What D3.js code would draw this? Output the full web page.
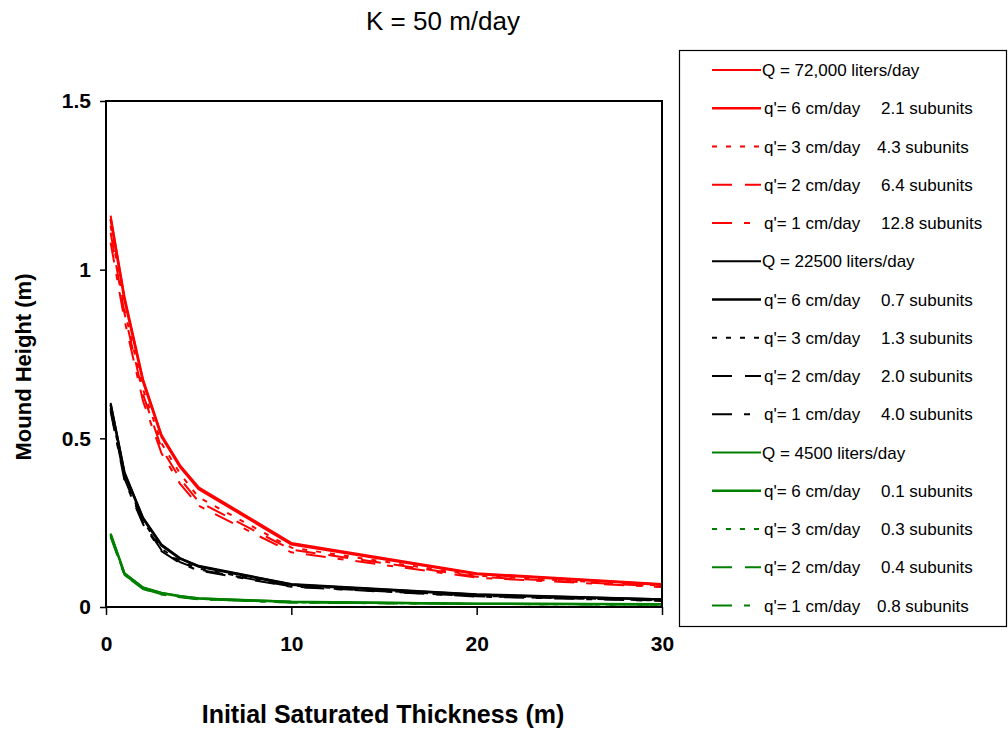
<!DOCTYPE html>
<html>
<head>
<meta charset="utf-8">
<script src="https://cdn.jsdelivr.net/npm/d3@7"></script>
<style>
  body { margin: 0; background: #fff; }
  svg { display: block; font-family: "Liberation Sans", Arial, sans-serif; }
</style>
</head>
<body>
<svg id="chart" width="1008" height="729"></svg>
<script>
// Initial saturated thickness (m)
const thickness = [0.25, 1, 2, 3, 4, 5, 10, 20, 30];

// Mound height (m), Q = 72,000 liters/day
const q72_total = [1.16, 0.92, 0.675, 0.51, 0.42, 0.355, 0.19, 0.100, 0.068];
const q72_q6    = [1.15, 0.91, 0.668, 0.505, 0.415, 0.350, 0.186, 0.098, 0.066];
const q72_q3    = [1.13, 0.88, 0.645, 0.485, 0.395, 0.325, 0.176, 0.093, 0.063];
const q72_q2    = [1.11, 0.87, 0.630, 0.470, 0.380, 0.312, 0.170, 0.090, 0.061];
const q72_q1    = [1.08, 0.85, 0.610, 0.455, 0.365, 0.300, 0.162, 0.087, 0.059];

// Q = 22500 liters/day
const q225_total = [0.605, 0.400, 0.265, 0.185, 0.145, 0.122, 0.068, 0.038, 0.023];
const q225_q6    = [0.600, 0.395, 0.262, 0.182, 0.143, 0.120, 0.066, 0.036, 0.022];
const q225_q3    = [0.590, 0.385, 0.255, 0.172, 0.136, 0.114, 0.063, 0.033, 0.020];
const q225_q2    = [0.585, 0.380, 0.250, 0.168, 0.133, 0.111, 0.061, 0.032, 0.019];
const q225_q1    = [0.580, 0.375, 0.245, 0.165, 0.130, 0.108, 0.060, 0.031, 0.018];

// Q = 4500 liters/day
const q45_total = [0.218, 0.100, 0.058, 0.042, 0.033, 0.026, 0.016, 0.010, 0.008];
const q45_q6    = [0.216, 0.099, 0.057, 0.041, 0.032, 0.025, 0.015, 0.010, 0.008];
const q45_q3    = [0.212, 0.096, 0.055, 0.039, 0.031, 0.024, 0.014, 0.009, 0.007];
const q45_q2    = [0.210, 0.095, 0.054, 0.038, 0.030, 0.023, 0.014, 0.009, 0.007];
const q45_q1    = [0.208, 0.094, 0.053, 0.037, 0.029, 0.023, 0.013, 0.009, 0.007];

// Legend text
const labelQ  = ["Q = 72,000 liters/day", "Q = 22500 liters/day", "Q = 4500 liters/day"];
const labelQp = ["q'= 6 cm/day", "q'= 3 cm/day", "q'= 2 cm/day", "q'= 1 cm/day"];
const subunits = [
  ["2.1 subunits", "4.3 subunits", "6.4 subunits", "12.8 subunits"],
  ["0.7 subunits", "1.3 subunits", "2.0 subunits", "4.0 subunits"],
  ["0.1 subunits", "0.3 subunits", "0.4 subunits", "0.8 subunits"]
];

const xTicks = [0, 10, 20, 30];
const yTicks = [0, 0.5, 1, 1.5];

const colors = ["#ff0000", "#000000", "#008000"];
const dashes = [null, null, "5,9", "20,13", "20,12,6,12"];
const widths = [2, 2.5, 2, 2, 2];

const groups = [
  [q72_total, q72_q6, q72_q3, q72_q2, q72_q1],
  [q225_total, q225_q6, q225_q3, q225_q2, q225_q1],
  [q45_total, q45_q6, q45_q3, q45_q2, q45_q1]
];

const svg = d3.select("#chart");
const m = { left: 106, top: 101, right: 662, bottom: 607 };

const x = d3.scaleLinear().domain([0, 30]).range([m.left, m.right]);
const y = d3.scaleLinear().domain([0, 1.5]).range([m.bottom, m.top]);

// Title
svg.append("text")
  .attr("x", 443).attr("y", 30)
  .attr("text-anchor", "middle")
  .attr("font-size", 26)
  .text("K = 50 m/day");

// Axes
const xAxis = svg.append("g")
  .attr("transform", `translate(0,${m.bottom})`)
  .call(d3.axisBottom(x).tickValues(xTicks).tickFormat(d3.format("d")).tickSize(8).tickPadding(21));
const yAxis = svg.append("g")
  .attr("transform", `translate(${m.left},0)`)
  .call(d3.axisLeft(y).tickValues(yTicks).tickFormat(d => d).tickSize(6).tickPadding(9));
[xAxis, yAxis].forEach(g => {
  g.select(".domain").remove();
  g.selectAll(".tick line").attr("stroke", "#000").attr("stroke-width", 1.5);
  g.selectAll(".tick text").attr("font-size", 21).attr("font-weight", "bold").attr("fill", "#000")
    .attr("font-family", "Liberation Sans, Arial, sans-serif");
});

// Curves
const line = d3.line().x((d, i) => x(thickness[i])).y(d => y(d));
const plot = svg.append("g");
groups.forEach((grp, gi) => {
  grp.slice().reverse().forEach((vals, ri) => {
    const si = grp.length - 1 - ri;
    plot.append("path")
      .datum(vals)
      .attr("d", line)
      .attr("fill", "none")
      .attr("stroke", colors[gi])
      .attr("stroke-width", widths[si])
      .attr("stroke-dasharray", dashes[si]);
  });
});

// Plot frame
svg.append("rect")
  .attr("x", m.left).attr("y", m.top)
  .attr("width", m.right - m.left).attr("height", m.bottom - m.top)
  .attr("fill", "none").attr("stroke", "#000").attr("stroke-width", 2);

// Axis titles
svg.append("text")
  .attr("x", 383).attr("y", 723)
  .attr("text-anchor", "middle")
  .attr("font-size", 25).attr("font-weight", "bold")
  .text("Initial Saturated Thickness (m)");
svg.append("text")
  .attr("transform", "translate(31,367) rotate(-90)")
  .attr("text-anchor", "middle")
  .attr("font-size", 22).attr("font-weight", "bold")
  .text("Mound Height (m)");

// Legend
const lg = svg.append("g");
lg.append("rect")
  .attr("x", 679.5).attr("y", 50.5).attr("width", 327).attr("height", 576)
  .attr("fill", "#fff").attr("stroke", "#000").attr("stroke-width", 1.2);

let row = 0;
groups.forEach((grp, gi) => {
  grp.forEach((vals, si) => {
    const cy = 70 + row * 38.25;
    lg.append("line")
      .attr("x1", 712).attr("x2", 761).attr("y1", cy).attr("y2", cy)
      .attr("stroke", colors[gi])
      .attr("stroke-width", widths[si])
      .attr("stroke-dasharray", dashes[si]);
    const t = lg.append("text").attr("y", cy + 6).attr("font-size", 17).attr("fill", "#000");
    if (si === 0) {
      t.attr("x", 762).text(labelQ[gi]);
    } else {
      t.attr("x", 764).text(labelQp[si - 1]);
      const sx = (subunits[gi][si - 1].startsWith("4.3") || subunits[gi][si - 1].startsWith("0.8")) ? 877 : 881;
      lg.append("text").attr("y", cy + 6).attr("font-size", 17)
        .attr("x", sx).text(subunits[gi][si - 1]);
    }
    row++;
  });
});
</script>
</body>
</html>
